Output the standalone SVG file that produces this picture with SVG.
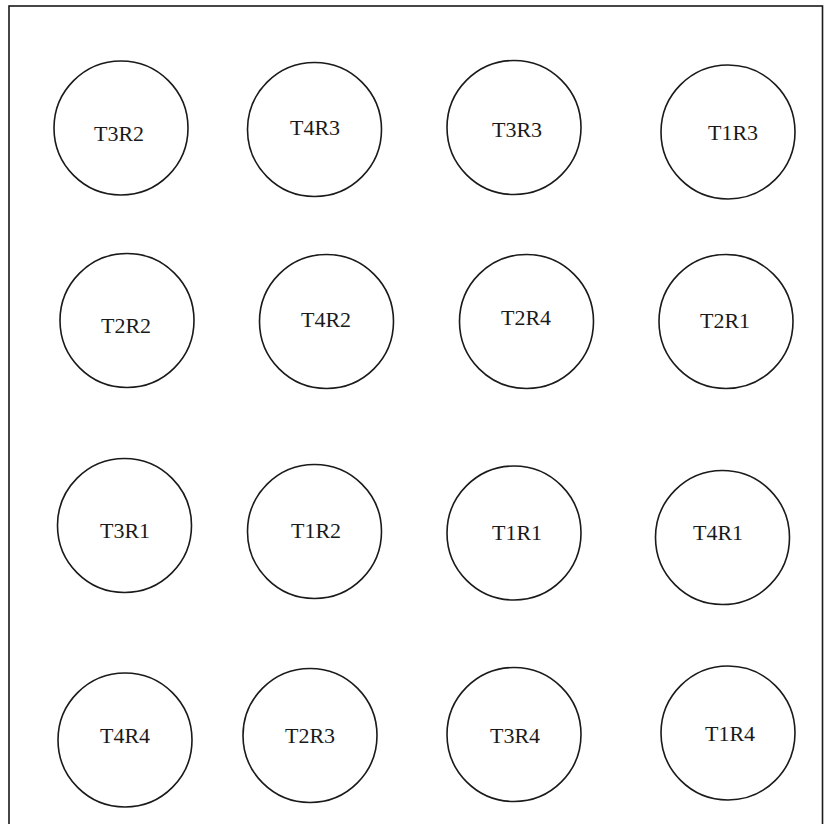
<svg xmlns="http://www.w3.org/2000/svg" width="826" height="824" viewBox="0 0 826 824">
<style>
.n circle{fill:#fff;stroke:#1a1a1a;stroke-width:1.6}
.n text{font-family:"Liberation Serif","Times New Roman",serif;font-size:22px;fill:#1a1a1a;text-anchor:middle;dominant-baseline:central}
.frame{fill:none;stroke:#1a1a1a;stroke-width:1.6}
</style>
<rect width="826" height="824" fill="#fff"/>
<rect class="frame" x="9" y="6" width="813.5" height="830"/>
<g id="connectors"/>
<g id="T3R2" class="n"><circle cx="121" cy="128" r="67"/><text x="119" y="133">T3R2</text></g>
<g id="T4R3" class="n"><circle cx="314.5" cy="129.5" r="67"/><text x="315" y="127">T4R3</text></g>
<g id="T3R3" class="n"><circle cx="514" cy="127.5" r="67"/><text x="517" y="129">T3R3</text></g>
<g id="T1R3" class="n"><circle cx="728" cy="132" r="67"/><text x="733" y="132">T1R3</text></g>
<g id="T2R2" class="n"><circle cx="127" cy="320.5" r="67"/><text x="126" y="325">T2R2</text></g>
<g id="T4R2" class="n"><circle cx="326.5" cy="321.5" r="67"/><text x="326" y="319">T4R2</text></g>
<g id="T2R4" class="n"><circle cx="526.5" cy="321.5" r="67"/><text x="526" y="317">T2R4</text></g>
<g id="T2R1" class="n"><circle cx="726" cy="321.5" r="67"/><text x="725" y="320">T2R1</text></g>
<g id="T3R1" class="n"><circle cx="124.5" cy="525.5" r="67"/><text x="125" y="530">T3R1</text></g>
<g id="T1R2" class="n"><circle cx="314.5" cy="531.5" r="67"/><text x="316" y="530">T1R2</text></g>
<g id="T1R1" class="n"><circle cx="514" cy="533" r="67"/><text x="517" y="532">T1R1</text></g>
<g id="T4R1" class="n"><circle cx="722.5" cy="537.5" r="67"/><text x="718" y="532">T4R1</text></g>
<g id="T4R4" class="n"><circle cx="125" cy="740" r="67"/><text x="125" y="735">T4R4</text></g>
<g id="T2R3" class="n"><circle cx="310" cy="735.5" r="67"/><text x="310" y="735">T2R3</text></g>
<g id="T3R4" class="n"><circle cx="514" cy="734.5" r="67"/><text x="515" y="735">T3R4</text></g>
<g id="T1R4" class="n"><circle cx="728" cy="733" r="67"/><text x="730" y="733">T1R4</text></g>
</svg>
